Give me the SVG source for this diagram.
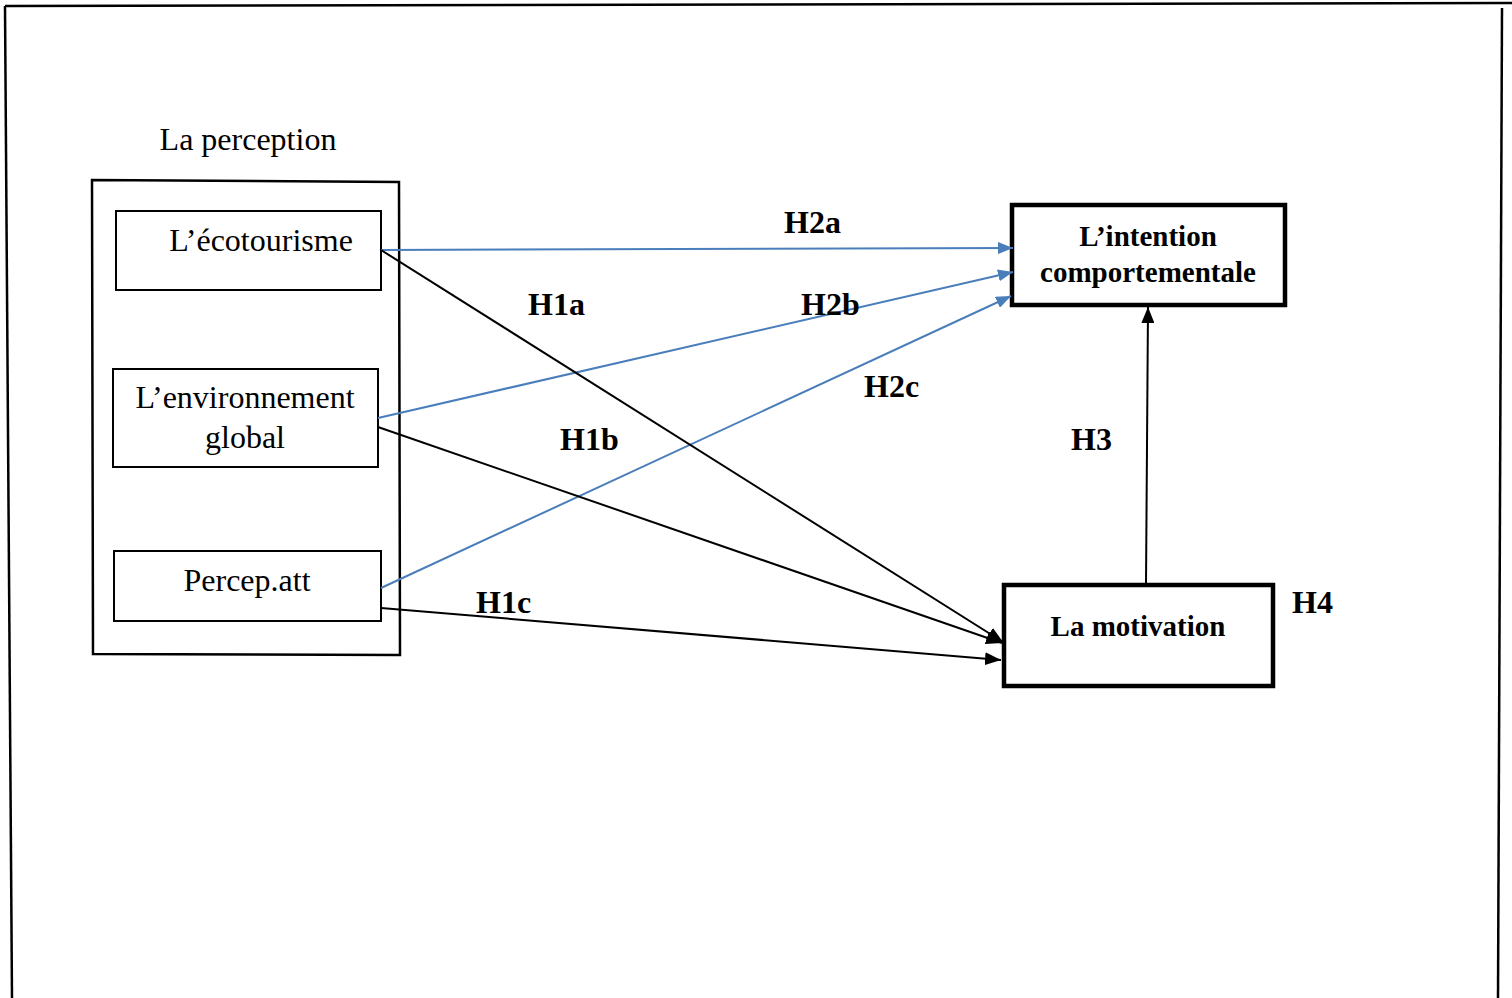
<svg xmlns="http://www.w3.org/2000/svg" width="1512" height="998" viewBox="0 0 1512 998">
<style>
.t{font-family:"Liberation Serif","Times New Roman",serif;font-size:32px;fill:#000}
.b{font-family:"Liberation Serif","Times New Roman",serif;font-size:32px;font-weight:bold;fill:#000}
.m{font-size:29px}
.box{fill:#fff;stroke:#000;stroke-width:2}
.bbox{fill:#fff;stroke:#000;stroke-width:4.5}
.blue{stroke:#4a7ebb;stroke-width:2;fill:none}
.blk{stroke:#000;stroke-width:2;fill:none}
</style>
<defs>
<marker id="ab" viewBox="0 0 10 10" refX="10" refY="5" markerWidth="15" markerHeight="12" markerUnits="userSpaceOnUse" orient="auto" preserveAspectRatio="none">
<path d="M0,0L10,5L0,10z" fill="#4a7ebb"/>
</marker>
<marker id="ak" viewBox="0 0 10 10" refX="10" refY="5" markerWidth="16" markerHeight="13" markerUnits="userSpaceOnUse" orient="auto" preserveAspectRatio="none">
<path d="M0,0L10,5L0,10z" fill="#000"/>
</marker>
</defs>
<rect width="1512" height="998" fill="#fff"/>
<g id="frame" fill="none" stroke="#000" stroke-width="2.5">
<path d="M5,6L1512,3"/>
<path d="M5,6L12,998"/>
<path d="M1502,8L1498,998"/>
</g>
<g id="perception">
<text class="t" x="248" y="150" text-anchor="middle">La perception</text>
<path d="M92,180L399,182L400,655L93,654z" fill="none" stroke="#000" stroke-width="2.5"/>
</g>
<g id="ecotourisme">
<rect class="box" x="116" y="211" width="265" height="79"/>
<text class="t" x="261" y="251" text-anchor="middle">L’écotourisme</text>
</g>
<g id="environnement">
<rect class="box" x="113" y="369" width="265" height="98"/>
<text class="t" x="245" y="408" text-anchor="middle">L’environnement</text>
<text class="t" x="245" y="448" text-anchor="middle">global</text>
</g>
<g id="perceptatt">
<rect class="box" x="114" y="551" width="267" height="70"/>
<text class="t" x="247" y="591" text-anchor="middle">Percep.att</text>
</g>
<g id="intention">
<rect class="bbox" x="1012" y="205" width="273" height="100"/>
<text class="b m" x="1148" y="246" text-anchor="middle">L’intention</text>
<text class="b m" x="1148" y="282" text-anchor="middle">comportementale</text>
</g>
<g id="motivation">
<rect class="bbox" x="1004" y="585" width="269" height="101"/>
<text class="b m" x="1138" y="636" text-anchor="middle">La motivation</text>
</g>
<g id="connectors">
<line class="blue" x1="381" y1="250" x2="1013" y2="248" marker-end="url(#ab)"/>
<line class="blue" x1="378" y1="418" x2="1013" y2="272" marker-end="url(#ab)"/>
<line class="blue" x1="381" y1="588" x2="1011" y2="296" marker-end="url(#ab)"/>
<line class="blk" x1="381" y1="250" x2="1003" y2="642" marker-end="url(#ak)"/>
<line class="blk" x1="378" y1="427" x2="1002" y2="643" marker-end="url(#ak)"/>
<line class="blk" x1="381" y1="608" x2="1001" y2="660" marker-end="url(#ak)"/>
<line class="blk" x1="1146" y1="585" x2="1148" y2="307" marker-end="url(#ak)"/>
</g>
<g id="labels">
<text class="b" x="784" y="233">H2a</text>
<text class="b" x="528" y="315">H1a</text>
<text class="b" x="801" y="315">H2b</text>
<text class="b" x="864" y="397">H2c</text>
<text class="b" x="560" y="450">H1b</text>
<text class="b" x="1071" y="450">H3</text>
<text class="b" x="476" y="613">H1c</text>
<text class="b" x="1292" y="613">H4</text>
</g>
</svg>
